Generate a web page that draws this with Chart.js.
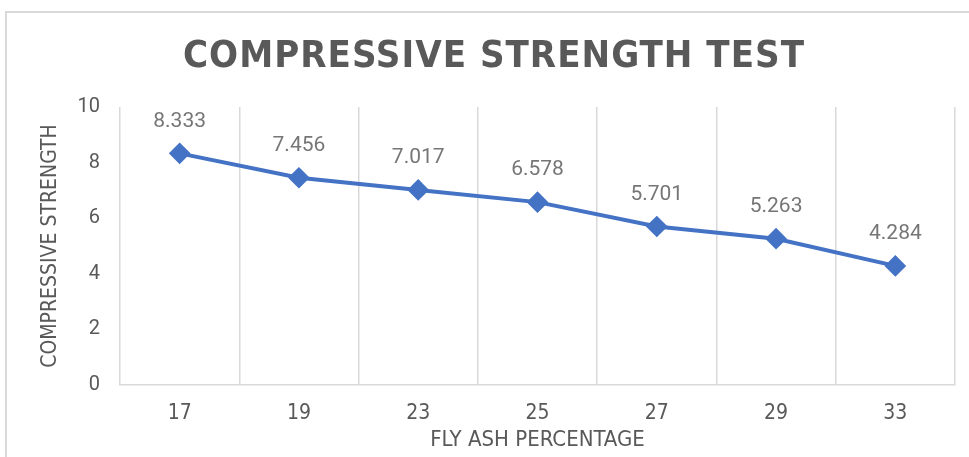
<!DOCTYPE html>
<html>
<head>
<meta charset="utf-8">
<script src="https://cdn.jsdelivr.net/npm/chart.js@4.4.0/dist/chart.umd.min.js"></script>
<style>
  html, body { margin: 0; padding: 0; background: #fff; }
  #wrap { width: 969px; height: 457px; position: relative; }
</style>
</head>
<body>
<div id="wrap"><canvas id="myChart" width="969" height="457"></canvas></div>
<script>
const chartTitle = 'COMPRESSIVE STRENGTH TEST';
const flyAsh = ['17', '19', '23', '25', '27', '29', '33'];
const strength = [8.333, 7.456, 7.017, 6.578, 5.701, 5.263, 4.284];
const yTitle = 'COMPRESSIVE STRENGTH';
const xTitle = 'FLY ASH PERCENTAGE';

const grey = '#595959';
const gridGrey = '#d9d9d9';
const blue = '#4472C4';
const narrow = "'Liberation Sans Narrow', 'DejaVu Sans Condensed', sans-serif";

// frame + title, drawn before the chart itself
const framePlugin = {
  id: 'frame',
  beforeDraw(chart) {
    const ctx = chart.ctx;
    ctx.save();
    ctx.strokeStyle = gridGrey;
    ctx.lineWidth = 2;
    ctx.strokeRect(6, 12, 1000, 500);
    ctx.fillStyle = grey;
    ctx.font = 'bold 38px ' + narrow;
    ctx.letterSpacing = '1px';
    ctx.textAlign = 'center';
    ctx.textBaseline = 'middle';
    ctx.fillText(chartTitle, 494, 57);
    ctx.restore();
  }
};

// value labels above each point
const valueLabels = {
  id: 'valueLabels',
  afterDatasetsDraw(chart) {
    const ctx = chart.ctx;
    const meta = chart.getDatasetMeta(0);
    ctx.save();
    ctx.fillStyle = '#767676';
    ctx.font = '21px Roboto';
    ctx.textAlign = 'center';
    ctx.textBaseline = 'middle';
    meta.data.forEach((pt, i) => {
      ctx.fillText(strength[i].toFixed(3), pt.x, pt.y - 32);
    });
    ctx.restore();
  }
};

new Chart(document.getElementById('myChart'), {
  type: 'line',
  data: {
    labels: flyAsh,
    datasets: [{
      data: strength,
      borderColor: blue,
      backgroundColor: blue,
      borderWidth: 4,
      pointStyle: 'rectRot',
      pointRadius: 8,
      pointHoverRadius: 8,
      tension: 0,
      fill: false
    }]
  },
  options: {
    responsive: false,
    animation: false,
    layout: { padding: { left: 34, top: 107, right: 14, bottom: 0 } },
    plugins: {
      legend: { display: false },
      tooltip: { enabled: false }
    },
    scales: {
      x: {
        offset: true,
        grid: { offset: true, color: gridGrey, lineWidth: 1.5, drawTicks: false },
        border: { color: gridGrey, width: 1.5 },
        ticks: { color: grey, font: { family: narrow, size: 21 }, padding: 16 },
        title: { display: true, text: xTitle, color: grey, font: { family: narrow, size: 22 }, padding: { top: 0, bottom: 4 } },
        afterFit(scale) { scale.height = 72; }
      },
      y: {
        min: 0,
        max: 10,
        ticks: { stepSize: 2, color: grey, font: { family: 'Roboto', size: 20 }, padding: 20 },
        grid: { display: false, drawTicks: false },
        border: { display: false },
        title: { display: true, text: yTitle, color: grey, font: { family: narrow, size: 21 }, padding: { top: 4, bottom: 0 } },
        afterFit(scale) { scale.width = 86; }
      }
    }
  },
  plugins: [framePlugin, valueLabels]
});
</script>
</body>
</html>
